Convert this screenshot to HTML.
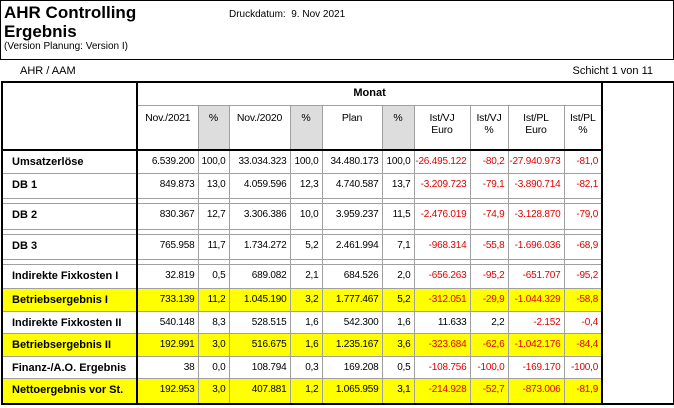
<!DOCTYPE html>
<html><head><meta charset="utf-8"><style>
*{box-sizing:border-box;margin:0;padding:0}
body{width:674px;height:408px;background:#fff;font-family:"Liberation Sans",Arial,sans-serif;position:relative;overflow:hidden;color:#000}
.hdr{position:absolute;left:0;top:0;width:674px;height:60px;border:1px solid #000}
.t1{position:absolute;left:3px;top:2px;font-size:17px;font-weight:bold;line-height:19px}
.v{position:absolute;left:3px;top:40px;font-size:10px}
.dd{position:absolute;left:228px;top:8px;font-size:10px}
.a{position:absolute;left:20px;top:65px;font-size:11px}
.s{position:absolute;right:21px;top:65px;font-size:11px}
table{position:absolute;left:1px;top:81px;width:672px;border-collapse:collapse;table-layout:fixed;font-size:10px;letter-spacing:-0.2px;border:2px solid #000}
td{border:1px solid #a0a0a0;text-align:right;vertical-align:top;padding:5px 3px 0 0;white-space:nowrap;overflow:hidden}
td.l{text-align:left;font-weight:bold;font-size:11px;letter-spacing:0;padding-left:9px;border-right:2px solid #000;border-left:none}
td.r{border:none;border-left:2px solid #000}
.h td{text-align:center;padding:6px 2px 0;font-size:10.5px}
td.g{background:repeating-conic-gradient(#c8c8c8 0 25%,#f2f2f2 0 50%) 0 0/2px 2px}
.red{color:#e00000}
.y td{background:#ffff00}
.y td.r{background:#fff}
.sp td{height:5px;padding:0}
.bt td{border-top:2px solid #000}
</style></head><body>
<div class="hdr">
<div class="t1">AHR Controlling<br>Ergebnis</div>
<div class="v">(Version Planung: Version I)</div>
<div class="dd">Druckdatum:&nbsp; 9. Nov 2021</div>
</div>
<div class="a">AHR / AAM</div>
<div class="s">Schicht 1 von 11</div>
<table>
<colgroup><col style="width:135px"><col style="width:61px"><col style="width:31px"><col style="width:61px"><col style="width:32px"><col style="width:60px"><col style="width:32px"><col style="width:56px"><col style="width:38px"><col style="width:56px"><col style="width:38px"><col style="width:72px"></colgroup>
<tr style="height:23px" class="h"><td class="l" rowspan="2"></td><td colspan="10" style="font-weight:bold;font-size:11px;letter-spacing:0;padding-top:4px">Monat</td><td class="r" rowspan="18"></td></tr>
<tr style="height:45px" class="h"><td>Nov./2021</td><td class="g">%</td><td>Nov./2020</td><td class="g">%</td><td>Plan</td><td class="g">%</td><td>Ist/VJ<br>Euro</td><td>Ist/VJ<br>%</td><td>Ist/PL<br>Euro</td><td>Ist/PL<br>%</td></tr>
<tr style="height:23px" class="bt"><td class="l">Umsatzerlöse</td><td>6.539.200</td><td>100,0</td><td>33.034.323</td><td>100,0</td><td>34.480.173</td><td>100,0</td><td class="red">-26.495.122</td><td class="red">-80,2</td><td class="red">-27.940.973</td><td class="red">-81,0</td></tr>
<tr style="height:25px"><td class="l">DB 1</td><td>849.873</td><td>13,0</td><td>4.059.596</td><td>12,3</td><td>4.740.587</td><td>13,7</td><td class="red">-3.209.723</td><td class="red">-79,1</td><td class="red">-3.890.714</td><td class="red">-82,1</td></tr>
<tr class="sp"><td class="l"></td><td></td><td></td><td></td><td></td><td></td><td></td><td></td><td></td><td></td><td></td></tr>
<tr style="height:26px"><td class="l">DB 2</td><td>830.367</td><td>12,7</td><td>3.306.386</td><td>10,0</td><td>3.959.237</td><td>11,5</td><td class="red">-2.476.019</td><td class="red">-74,9</td><td class="red">-3.128.870</td><td class="red">-79,0</td></tr>
<tr class="sp"><td class="l"></td><td></td><td></td><td></td><td></td><td></td><td></td><td></td><td></td><td></td><td></td></tr>
<tr style="height:25px"><td class="l">DB 3</td><td>765.958</td><td>11,7</td><td>1.734.272</td><td>5,2</td><td>2.461.994</td><td>7,1</td><td class="red">-968.314</td><td class="red">-55,8</td><td class="red">-1.696.036</td><td class="red">-68,9</td></tr>
<tr class="sp"><td class="l"></td><td></td><td></td><td></td><td></td><td></td><td></td><td></td><td></td><td></td><td></td></tr>
<tr style="height:24px"><td class="l">Indirekte Fixkosten I</td><td>32.819</td><td>0,5</td><td>689.082</td><td>2,1</td><td>684.526</td><td>2,0</td><td class="red">-656.263</td><td class="red">-95,2</td><td class="red">-651.707</td><td class="red">-95,2</td></tr>
<tr style="height:23px" class="y"><td class="l">Betriebsergebnis I</td><td>733.139</td><td>11,2</td><td>1.045.190</td><td>3,2</td><td>1.777.467</td><td>5,2</td><td class="red">-312.051</td><td class="red">-29,9</td><td class="red">-1.044.329</td><td class="red">-58,8</td></tr>
<tr style="height:22px"><td class="l">Indirekte Fixkosten II</td><td>540.148</td><td>8,3</td><td>528.515</td><td>1,6</td><td>542.300</td><td>1,6</td><td>11.633</td><td>2,2</td><td class="red">-2.152</td><td class="red">-0,4</td></tr>
<tr style="height:23px" class="y"><td class="l">Betriebsergebnis II</td><td>192.991</td><td>3,0</td><td>516.675</td><td>1,6</td><td>1.235.167</td><td>3,6</td><td class="red">-323.684</td><td class="red">-62,6</td><td class="red">-1.042.176</td><td class="red">-84,4</td></tr>
<tr style="height:22px"><td class="l">Finanz-/A.O. Ergebnis</td><td>38</td><td>0,0</td><td>108.794</td><td>0,3</td><td>169.208</td><td>0,5</td><td class="red">-108.756</td><td class="red">-100,0</td><td class="red">-169.170</td><td class="red">-100,0</td></tr>
<tr style="height:26px" class="y"><td class="l">Nettoergebnis vor St.</td><td>192.953</td><td>3,0</td><td>407.881</td><td>1,2</td><td>1.065.959</td><td>3,1</td><td class="red">-214.928</td><td class="red">-52,7</td><td class="red">-873.006</td><td class="red">-81,9</td></tr>
</table>
</body></html>
